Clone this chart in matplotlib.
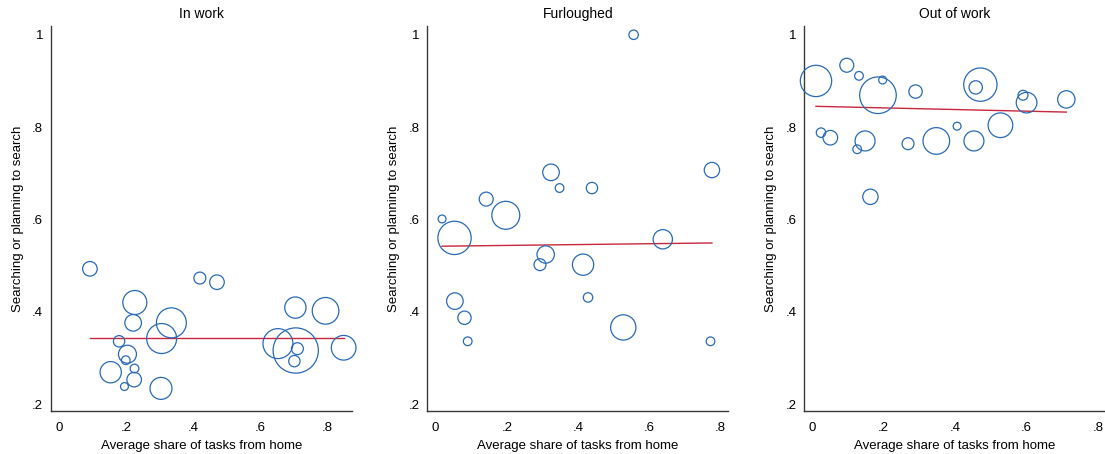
import matplotlib
matplotlib.use("Agg")
import matplotlib.pyplot as plt
import numpy as np

plt.rcParams['font.family'] = ['Liberation Sans', 'DejaVu Sans']

titles = ["In work", "Furloughed", "Out of work"]

# In work
x1 = [0.093, 0.421, 0.472, 0.227, 0.222, 0.336, 0.307, 0.180, 0.205, 0.200, 0.226,
      0.155, 0.225, 0.196, 0.305, 0.706, 0.796, 0.654, 0.707, 0.712, 0.703, 0.850]
y1 = [0.493, 0.473, 0.464, 0.420, 0.376, 0.376, 0.342, 0.336, 0.308, 0.295, 0.277,
      0.269, 0.253, 0.238, 0.234, 0.409, 0.402, 0.331, 0.316, 0.320, 0.293, 0.322]
w1 = [4.8, 3.2, 4.8, 13.0, 6.2, 20.2, 20.2, 2.9, 7.3, 1.7, 1.7,
      10.2, 4.8, 1.4, 10.9, 10.2, 16.0, 20.2, 46.2, 3.2, 2.9, 13.7]
fx1 = [0.093, 0.850]
fy1 = [0.343, 0.343]

# Furloughed
x2 = [0.556, 0.324, 0.348, 0.439, 0.776, 0.142, 0.197, 0.018, 0.053, 0.638,
      0.309, 0.293, 0.414, 0.428, 0.054, 0.081, 0.090, 0.527, 0.772]
y2 = [1.000, 0.702, 0.668, 0.668, 0.707, 0.644, 0.609, 0.601, 0.560, 0.557,
      0.524, 0.502, 0.502, 0.431, 0.423, 0.387, 0.336, 0.366, 0.336]
w2 = [2.0, 6.2, 1.7, 2.9, 5.3, 4.4, 17.6, 1.4, 25.0, 8.4,
      6.8, 3.2, 10.2, 2.0, 6.2, 4.0, 1.7, 14.4, 1.7]
fx2 = [0.018, 0.776]
fy2 = [0.542, 0.549]

# Out of work
x3 = [0.012, 0.098, 0.132, 0.198, 0.185, 0.290, 0.471, 0.458, 0.590, 0.600, 0.711,
      0.026, 0.052, 0.149, 0.127, 0.269, 0.348, 0.406, 0.453, 0.527, 0.164]
y3 = [0.900, 0.934, 0.911, 0.902, 0.869, 0.877, 0.892, 0.886, 0.869, 0.853, 0.860,
      0.788, 0.777, 0.770, 0.752, 0.764, 0.770, 0.802, 0.770, 0.804, 0.649]
w3 = [22.1, 4.4, 1.7, 1.4, 30.2, 4.0, 25.0, 4.0, 2.2, 9.6, 6.8,
      2.0, 4.8, 9.0, 1.7, 3.2, 16.0, 1.4, 9.0, 13.7, 5.3]
fx3 = [0.012, 0.711]
fy3 = [0.845, 0.8325]

panels = [(x1, y1, w1, fx1, fy1), (x2, y2, w2, fx2, fy2), (x3, y3, w3, fx3, fy3)]
xlims = [(-0.024, 0.874), (-0.0235, 0.822), (-0.0215, 0.819)]
lefts = [50.7, 427.3, 804.0]

W, H = 1105, 454
fig = plt.figure(figsize=(W / 100, H / 100), dpi=100)

blue = '#2a6ab8'
red = '#c8283c'
spine_c = '#3a3a3a'

for i, (xs, ys, ws, fx, fy) in enumerate(panels):
    ax = fig.add_axes([lefts[i] / W, (H - 411) / H, 301 / W, (411 - 26) / H])
    s = np.array(ws) * 23.0
    ax.scatter(xs, ys, s=s, facecolors='none', edgecolors=blue, linewidths=0.9,
               zorder=3, clip_on=False)
    ax.plot(fx, fy, color=red, lw=1.0, zorder=2)
    ax.set_xlim(*xlims[i])
    ax.set_ylim(0.185, 1.019)
    ax.set_xticks([0, 0.2, 0.4, 0.6, 0.8])
    ax.set_xticklabels(['0', '.2', '.4', '.6', '.8'])
    ax.set_yticks([0.2, 0.4, 0.6, 0.8, 1.0])
    ax.set_yticklabels(['.2', '.4', '.6', '.8', '1'])
    ax.tick_params(axis='x', length=0, labelsize=9.5, colors='black', pad=8)
    ax.tick_params(axis='y', length=0, labelsize=9.5, colors='black', pad=5.5)
    for side in ['top', 'right']:
        ax.spines[side].set_visible(False)
    for side in ['left', 'bottom']:
        ax.spines[side].set_color(spine_c)
        ax.spines[side].set_linewidth(1.0)
    ax.set_title(titles[i], fontsize=10, pad=6)
    ax.set_xlabel('Average share of tasks from home', fontsize=9.5, labelpad=4)
    ax.set_ylabel('Searching or planning to search', fontsize=9.5, labelpad=6)

fig.savefig('out.png', dpi=100)
